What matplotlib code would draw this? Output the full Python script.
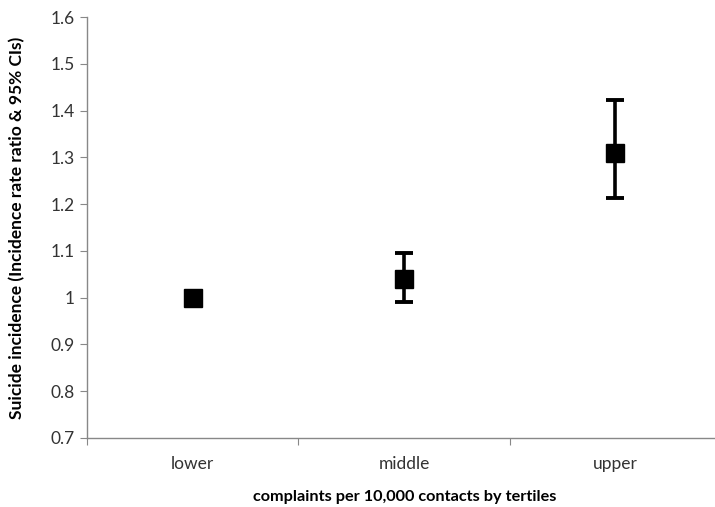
import numpy as np
import matplotlib.pyplot as plt
from matplotlib.ticker import FuncFormatter, FixedLocator

# data
categories = ["lower", "middle", "upper"]
irr = [1.0, 1.04, 1.31]
ci_low = [1.0, 0.99, 1.212]
ci_high = [1.0, 1.096, 1.422]

plt.rcParams['font.family'] = ['Lato', 'DejaVu Sans']

fig = plt.figure(figsize=(7.15, 5.07), dpi=100)
# axis spans a bit past the right edge, like the original export
ax = fig.add_axes([87/715, 69/507, 634/715, 421/507])

x = np.arange(1, len(categories) + 1)
yerr = np.array([np.array(irr) - np.array(ci_low), np.array(ci_high) - np.array(irr)])
has_err = yerr.sum(axis=0) > 0

ax.errorbar(x[has_err], np.array(irr)[has_err], yerr=yerr[:, has_err], fmt='none',
            ecolor='black', elinewidth=2.6, capsize=6.5, capthick=2.8, zorder=2)
ax.plot(x, irr, linestyle='none', marker='s', markersize=12.5, color='black', zorder=3)

ax.set_xlim(0.5, 3.5)
ax.set_ylim(0.7, 1.6)
ax.set_yticks(np.arange(0.7, 1.61, 0.1))
ax.yaxis.set_major_formatter(FuncFormatter(lambda v, p: '%g' % round(v, 1)))

# category labels centred, ticks on the boundaries
ax.xaxis.set_major_locator(FixedLocator([0.5, 1.5, 2.5, 3.5]))
ax.set_xticklabels([])
ax.xaxis.set_minor_locator(FixedLocator(x))
ax.set_xticklabels(categories, minor=True)
ax.tick_params(axis='x', which='minor', length=0, pad=13, labelsize=12.5, labelcolor='#333333')
ax.tick_params(axis='x', which='major', length=5, color='#888888', direction='out')
ax.tick_params(axis='y', length=5, color='#888888', labelsize=12.5, labelcolor='#333333', pad=4)

for s in ['top', 'right']:
    ax.spines[s].set_visible(False)
for s in ['left', 'bottom']:
    ax.spines[s].set_color('#888888')
    ax.spines[s].set_linewidth(1)

fig.text(17/715, 1 - 228/507, "Suicide incidence (Incidence rate ratio & 95% CIs)",
         rotation=90, ha='center', va='center', fontsize=12.5, fontweight='bold')
fig.text(405/715, 1 - 497/507, "complaints per 10,000 contacts by tertiles",
         ha='center', va='center', fontsize=11.7, fontweight='bold')

fig.savefig("out.png", dpi=100)
